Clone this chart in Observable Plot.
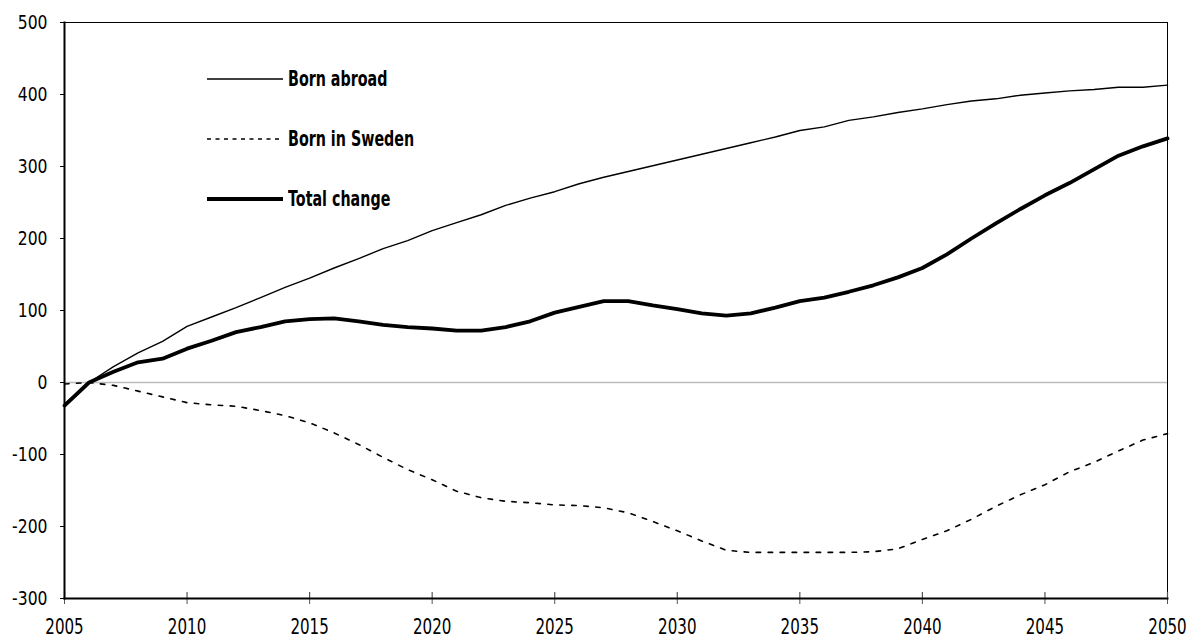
<!DOCTYPE html>
<html>
<head>
<meta charset="utf-8">
<script src="https://cdn.jsdelivr.net/npm/d3@7"></script>
<script src="https://cdn.jsdelivr.net/npm/@observablehq/plot@0.6"></script>
<style>
  html, body { margin: 0; padding: 0; background: #fff; }
  #wrap { position: relative; width: 1190px; height: 639px; font-family: "DejaVu Sans", sans-serif; }
  #legend { position: absolute; left: 207px; top: 66px; }
  .item { display: flex; align-items: center; height: 26px; margin-bottom: 34px; white-space: nowrap; }
  .item span { display: inline-block; font-weight: bold; font-size: 21px; margin-left: 5px; color: #000; transform: scaleX(0.68); transform-origin: left center; }
</style>
</head>
<body>
<div id="wrap"></div>
<script>
const years = d3.range(2005, 2051);
const bornAbroad = [-30, 0, 22, 41, 57, 78, 91, 104, 118, 132, 145, 159, 172, 186, 197, 211, 222, 233, 246, 256, 265, 276, 285, 293, 301, 309, 317, 325, 333, 341, 350, 355, 364, 369, 375, 380, 386, 391, 394, 399, 402, 405, 407, 410, 410, 413];
const bornSweden = [-2, 0, -4, -12, -20, -28, -31, -33, -39, -46, -56, -70, -86, -104, -121, -135, -151, -160, -165, -167, -170, -171, -174, -181, -193, -206, -220, -233, -236, -236, -236, -236, -236, -235, -231, -218, -206, -190, -172, -156, -142, -124, -111, -95, -80, -71];
const totalChange = [-32, 0, 15, 28, 33, 47, 58, 70, 77, 85, 88, 89, 85, 80, 77, 75, 72, 72, 77, 85, 97, 105, 113, 113, 107, 102, 96, 93, 96, 104, 113, 118, 126, 135, 146, 159, 178, 200, 221, 241, 260, 277, 296, 315, 328, 339];
const xTicks = d3.range(2005, 2051, 5);
const yTicks = d3.range(-300, 501, 100);
const seriesNames = ["Born abroad", "Born in Sweden", "Total change"];

const rows = (vals) => years.map((y, i) => ({year: y, value: vals[i]}));

const W = 1190, H = 639, mL = 64, mR = 23, mT = 22, mB = 41;
const innerH = H - mT - mB;

const chart = Plot.plot({
  width: W, height: H,
  marginLeft: mL, marginRight: mR, marginTop: mT, marginBottom: mB,
  style: {fontFamily: '"DejaVu Sans", sans-serif', background: "#fff", color: "#000"},
  x: {domain: [2005, 2050], ticks: xTicks, tickFormat: d => String(d)},
  y: {domain: [-300, 500], ticks: yTicks},
  marks: [
    Plot.ruleY([0], {stroke: "#bbb", strokeWidth: 1.5}),
    Plot.lineY(rows(bornSweden), {x: "year", y: "value", stroke: "#000", strokeWidth: 1.6, strokeDasharray: "4.5,7.5"}),
    Plot.lineY(rows(bornAbroad), {x: "year", y: "value", stroke: "#000", strokeWidth: 1.4}),
    Plot.lineY(rows(totalChange), {x: "year", y: "value", stroke: "#000", strokeWidth: 3.8, strokeLinejoin: "round"}),
    Plot.frame({anchor: "top", stroke: "#000", strokeWidth: 1}),
    Plot.frame({anchor: "right", stroke: "#000", strokeWidth: 1}),
    Plot.ruleX(xTicks, {x: d => d, insetTop: innerH - 6, stroke: "#555", strokeWidth: 1.2}),
    Plot.axisX({ticks: xTicks, tickFormat: d => String(d), tickSize: 6, tickPadding: 15, fontSize: 21, stroke: "#555", label: null}),
    Plot.axisY({ticks: yTicks, tickFormat: d => String(d), tickSize: 4, tickPadding: 13, fontSize: 20, label: null}),
    Plot.frame({anchor: "left", stroke: "#000", strokeWidth: 2}),
    Plot.frame({anchor: "bottom", stroke: "#000", strokeWidth: 2})
  ]
});

// condense the tick label glyphs horizontally (no condensed font is installed)
function condense(sel, s) {
  chart.querySelectorAll(sel).forEach(t => {
    const x = +t.getAttribute("x") || 0;
    const tr = t.getAttribute("transform") || "";
    t.setAttribute("transform", `${tr} translate(${x},0) scale(${s},1) translate(${-x},0)`);
  });
}
condense('g[aria-label="x-axis tick label"] text', 0.72);
condense('g[aria-label="y-axis tick label"] text', 0.78);

const wrap = document.getElementById("wrap");
wrap.appendChild(chart);

const legend = document.createElement("div");
legend.id = "legend";
const styles = [
  {w: 1.4, dash: null},
  {w: 1.6, dash: "4,4.5"},
  {w: 3.8, dash: null}
];
seriesNames.forEach((name, i) => {
  const item = document.createElement("div");
  item.className = "item";
  const s = styles[i];
  item.innerHTML = `<svg width="76" height="10"><line x1="0" y1="5" x2="76" y2="5" stroke="#000" stroke-width="${s.w}" ${s.dash ? `stroke-dasharray="${s.dash}"` : ""}/></svg><span>${name}</span>`;
  legend.appendChild(item);
});
wrap.appendChild(legend);
</script>
</body>
</html>
